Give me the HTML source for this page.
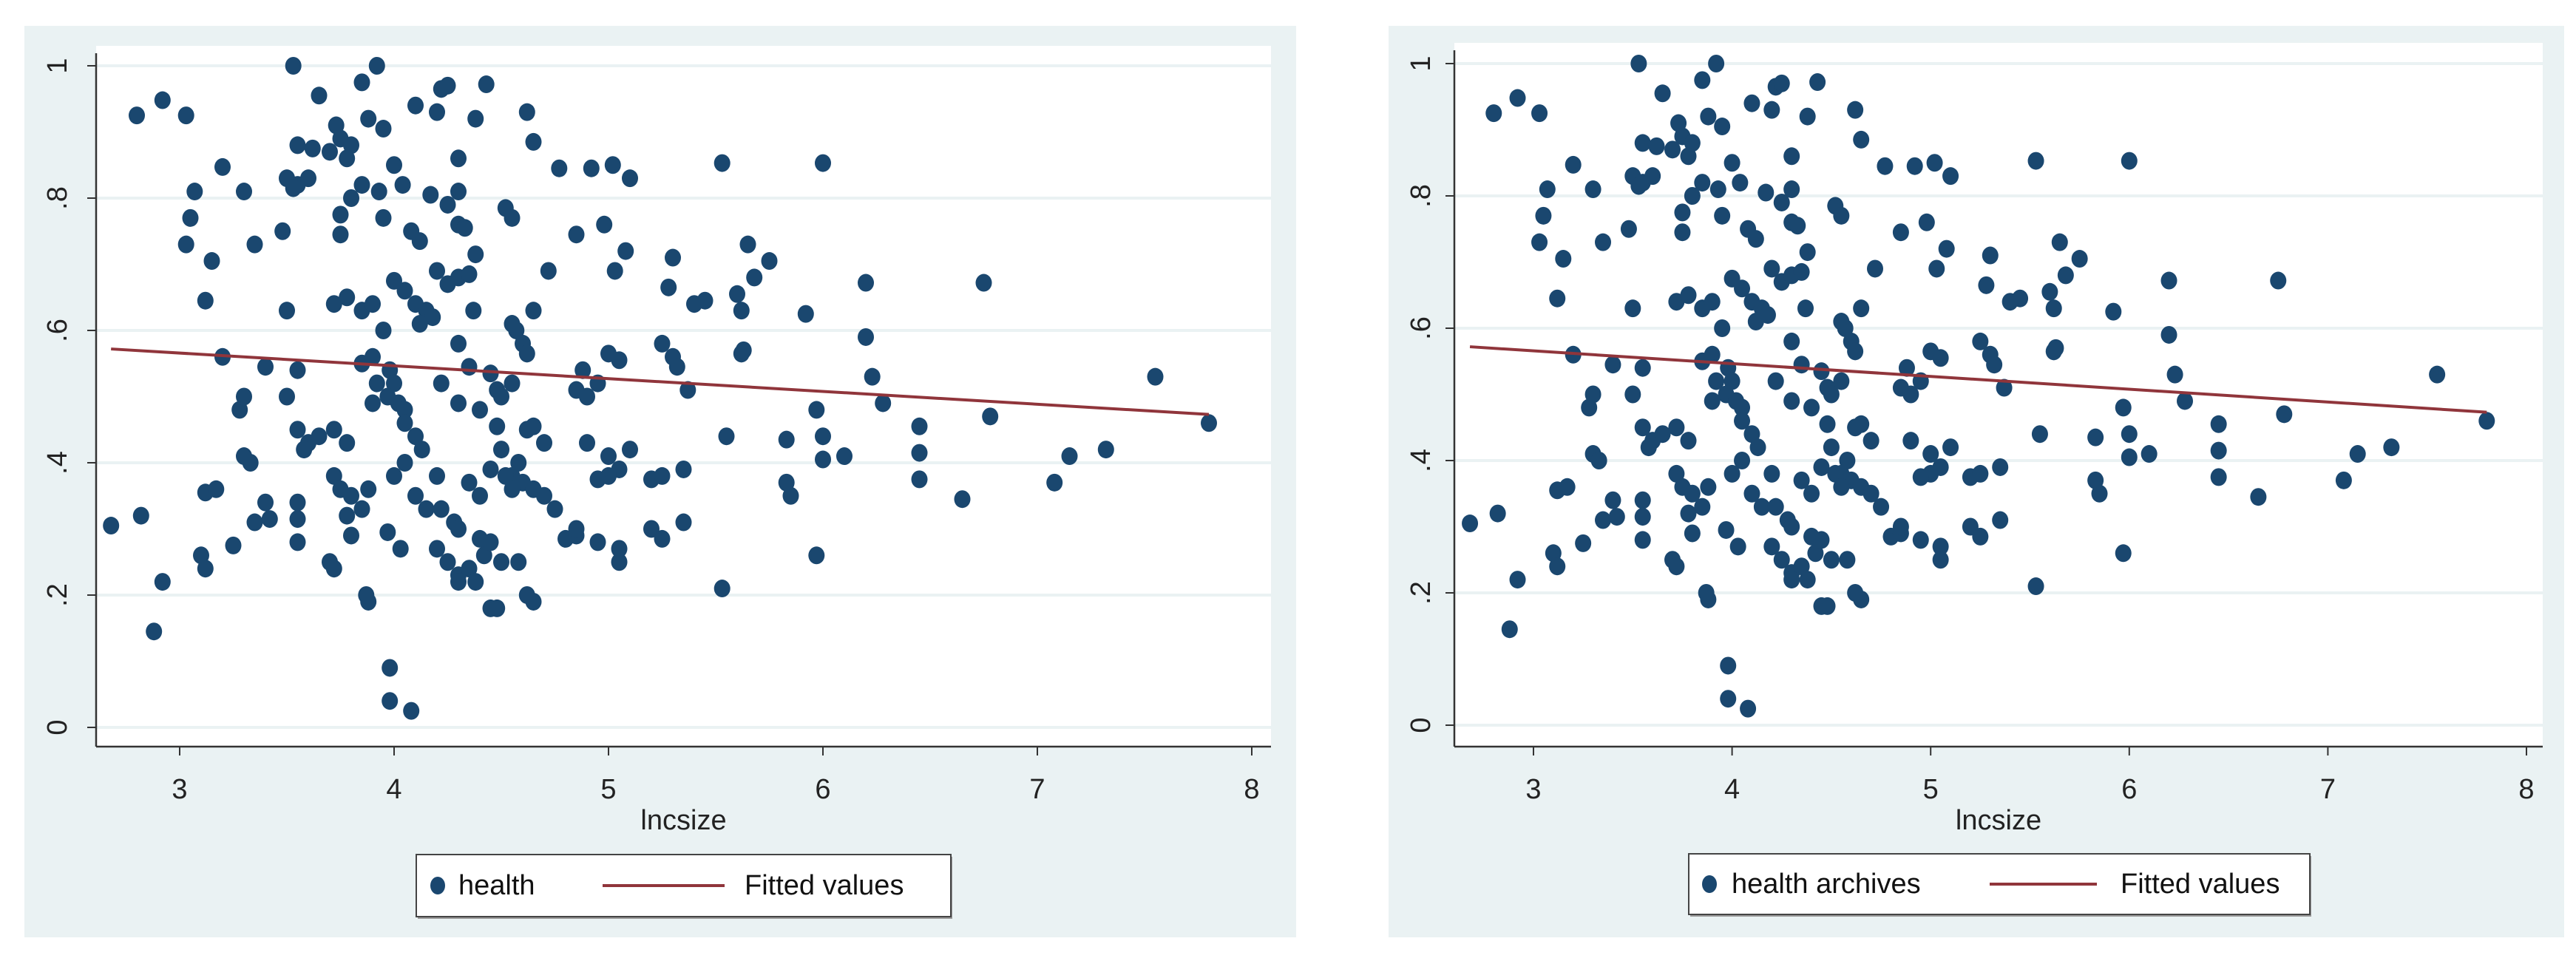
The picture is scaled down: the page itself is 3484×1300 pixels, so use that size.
<!DOCTYPE html>
<html><head><meta charset="utf-8">
<style>
html,body{margin:0;padding:0;background:#fff;}
svg{display:block;font-family:"Liberation Sans",sans-serif;}
</style></head>
<body>
<svg id="chart" width="3484" height="1300" viewBox="0 0 3484 1300" xmlns="http://www.w3.org/2000/svg"></svg>
<script>
const lncsize = [3.53,3.92,2.8,2.92,3.03,3.65,3.85,4.22,4.25,4.43,4.1,4.2,4.38,4.62,3.95,3.73,3.75,3.8,3.88,3.55,3.62,3.7,3.78,4.65,4.3,4.77,4.92,5.02,5.1,5.53,6.0,3.2,3.07,3.3,3.5,3.55,3.6,3.53,3.8,3.85,3.93,4.0,4.04,4.17,4.3,4.25,4.52,4.55,3.05,3.03,3.75,3.95,3.75,4.08,4.12,4.38,3.15,3.35,3.48,4.3,4.33,4.85,4.98,5.08,5.3,5.45,5.75,5.65,5.68,4.2,4.25,4.3,4.35,4.0,4.05,4.1,4.15,4.18,4.12,3.72,3.78,3.85,3.9,3.12,3.5,3.95,4.37,4.65,4.57,4.6,4.62,4.55,5.03,4.72,5.28,5.4,5.6,5.62,5.92,6.2,6.75,6.2,6.23,6.28,5.25,5.3,5.32,5.0,5.05,5.62,5.63,4.95,4.88,4.9,4.85,5.37,3.2,3.4,3.55,3.85,3.9,3.98,4.0,4.35,4.45,4.3,4.48,4.55,4.5,3.92,3.97,4.02,4.05,3.9,4.3,4.4,3.28,3.3,3.5,4.22,4.65,4.62,4.48,4.05,4.1,3.55,3.6,3.58,3.65,3.72,3.78,3.3,3.33,4.13,4.7,4.9,5.0,5.05,5.0,5.2,5.25,5.35,5.1,4.95,5.55,5.83,5.97,6.0,6.0,6.1,6.45,6.45,6.45,6.65,6.78,7.08,7.15,7.32,7.55,7.8,5.83,5.85,4.6,4.55,4.58,4.65,4.7,4.75,4.5,4.52,4.45,4.55,3.72,3.75,3.8,3.85,3.88,3.78,4.0,4.05,4.2,4.1,4.15,4.22,4.28,4.3,4.35,4.4,3.4,3.35,3.42,3.55,3.55,3.12,3.17,2.68,2.82,3.1,3.12,3.25,3.55,3.7,3.72,3.8,3.97,4.03,4.2,4.25,4.3,4.35,4.38,4.3,4.42,4.45,4.5,4.58,4.62,4.65,4.45,4.48,4.4,4.8,4.85,4.85,4.95,5.05,5.05,5.2,5.25,5.35,5.97,5.53,2.92,2.88,3.88,3.87,3.98,3.98,4.08];
const health = [1.0,1.0,.925,.948,.925,.955,.975,.965,.97,.972,.94,.93,.92,.93,.905,.91,.89,.88,.92,.88,.875,.87,.86,.885,.86,.845,.845,.85,.83,.853,.853,.847,.81,.81,.83,.82,.83,.815,.8,.82,.81,.85,.82,.805,.81,.79,.785,.77,.77,.73,.775,.77,.745,.75,.735,.715,.705,.73,.75,.76,.755,.745,.76,.72,.71,.645,.705,.73,.68,.69,.67,.68,.685,.675,.66,.64,.63,.62,.61,.64,.65,.63,.64,.645,.63,.6,.63,.63,.6,.58,.565,.61,.69,.69,.665,.64,.655,.63,.625,.672,.672,.59,.53,.49,.58,.56,.545,.565,.555,.565,.57,.52,.54,.5,.51,.51,.56,.545,.54,.55,.56,.54,.52,.545,.535,.58,.51,.52,.5,.52,.5,.49,.48,.49,.49,.48,.48,.5,.5,.52,.455,.45,.455,.46,.44,.45,.43,.42,.44,.45,.43,.41,.4,.42,.43,.43,.41,.39,.38,.375,.38,.39,.42,.375,.44,.435,.48,.44,.405,.41,.455,.415,.375,.345,.47,.37,.41,.42,.53,.46,.37,.35,.37,.38,.4,.36,.35,.33,.42,.38,.39,.36,.38,.36,.35,.33,.36,.32,.38,.4,.38,.35,.33,.33,.31,.3,.37,.35,.34,.31,.315,.315,.34,.355,.36,.305,.32,.26,.24,.275,.28,.25,.24,.29,.295,.27,.27,.25,.23,.24,.22,.22,.26,.28,.25,.25,.2,.19,.18,.18,.285,.285,.29,.3,.28,.27,.25,.3,.285,.31,.26,.21,.22,.145,.19,.2,.09,.04,.025];
const fitX = [2.68, 7.8];
const fitY = [0.572, 0.473];
const xTicks = [3,4,5,6,7,8];
const yTicks = [0,0.2,0.4,0.6,0.8,1];
const yTickLabels = ["0",".2",".4",".6",".8","1"];

const svg = document.getElementById('chart');
const NS = 'http://www.w3.org/2000/svg';
function mk(tag, attrs, parent){const e=document.createElementNS(NS,tag);for(const k in attrs)e.setAttribute(k,attrs[k]);(parent||svg).appendChild(e);return e;}

const panels = [
  {id:'left', bg:[33,35,1720,1233], plot:[130,62,1719,1010], x3:243, x8:1693, y0:984, y1:89, ylabX:78,
   legend:[563,1156,723,84], mark:592, line:[815,980], t1:620, t2:1007, series:'health'},
  {id:'right', bg:[1878,35,1590,1233], plot:[1967,58,3439,1010], x3:2074, x8:3417, y0:981, y1:86, ylabX:1922,
   legend:[2284,1155,840,82], mark:2312, line:[2691,2836], t1:2342, t2:2868, series:'health archives'}
];

panels.forEach(p=>{
  const g = mk('g',{});
  
  
  const bg = mk('rect',{x:p.bg[0],y:p.bg[1],width:p.bg[2],height:p.bg[3],fill:'#eaf2f3'},g);
  
  
  const [L,T,R,B] = p.plot;
  const pr = mk('rect',{x:L,y:T,width:R-L,height:B-T,fill:'#ffffff'},g);
  
  
  const sx = v => p.x3 + (v-3)*(p.x8-p.x3)/5;
  const sy = v => p.y0 - v*(p.y0-p.y1);
  // grid + y ticks
  yTicks.forEach((t,i)=>{
    const gl = mk('line',{x1:L,x2:R,y1:sy(t),y2:sy(t),stroke:'#eaf2f3','stroke-width':4},g);
    
    
    mk('line',{x1:L-12,x2:L,y1:sy(t),y2:sy(t),stroke:'#333','stroke-width':2},g);
    const tl = mk('text',{x:p.ylabX,y:sy(t),'font-size':38,fill:'#222','text-anchor':'middle','dominant-baseline':'central',transform:'rotate(-90 '+p.ylabX+' '+sy(t)+')'},g);
    tl.textContent = yTickLabels[i];
    
    
  });
  // axes
  const ya = mk('line',{x1:L,x2:L,y1:T+10,y2:B,stroke:'#333','stroke-width':2.5},g);
  
  
  const xa = mk('line',{x1:L,x2:R,y1:B,y2:B,stroke:'#333','stroke-width':2.5},g);
  
  
  xTicks.forEach(t=>{
    mk('line',{x1:sx(t),x2:sx(t),y1:B,y2:B+12,stroke:'#333','stroke-width':2},g);
    const tl = mk('text',{x:sx(t),y:1080,'font-size':38,fill:'#222','text-anchor':'middle'},g);
    tl.textContent = t;
    
    
  });
  const xt = mk('text',{x:(L+R)/2,y:1122,'font-size':38,fill:'#222','text-anchor':'middle'},g);
  xt.textContent = 'lncsize';
  
  
  // points
  lncsize.forEach((xv,i)=>{
    const c = mk('ellipse',{cx:sx(xv),cy:sy(health[i]),rx:11,ry:12,fill:'#1a476f'},g);
    
    
  });
  const fl = mk('line',{x1:sx(fitX[0]),y1:sy(fitY[0]),x2:sx(fitX[1]),y2:sy(fitY[1]),stroke:'#90353b','stroke-width':4},g);
  
  
  // legend
  const [lx,ly,lw,lh] = p.legend;
  const lg = mk('g',{},g);
  
  
  mk('rect',{x:lx+2,y:ly+3,width:lw,height:lh,fill:'#9a9a9a'},lg);
  mk('rect',{x:lx,y:ly,width:lw,height:lh,fill:'#ffffff',stroke:'#444','stroke-width':2},lg);
  const cy = ly+lh/2;
  const lm = mk('ellipse',{cx:p.mark,cy:cy,rx:10,ry:12,fill:'#1a476f'},lg);
  
  
  const t1 = mk('text',{x:p.t1,y:cy,'font-size':38,fill:'#111','dominant-baseline':'central'},lg);
  t1.textContent = p.series;
  
  
  const ll = mk('line',{x1:p.line[0],x2:p.line[1],y1:cy,y2:cy,stroke:'#90353b','stroke-width':4},lg);
  
  
  const t2 = mk('text',{x:p.t2,y:cy,'font-size':38,fill:'#111','dominant-baseline':'central'},lg);
  t2.textContent = 'Fitted values';
  
  
});
</script>
</body></html>
